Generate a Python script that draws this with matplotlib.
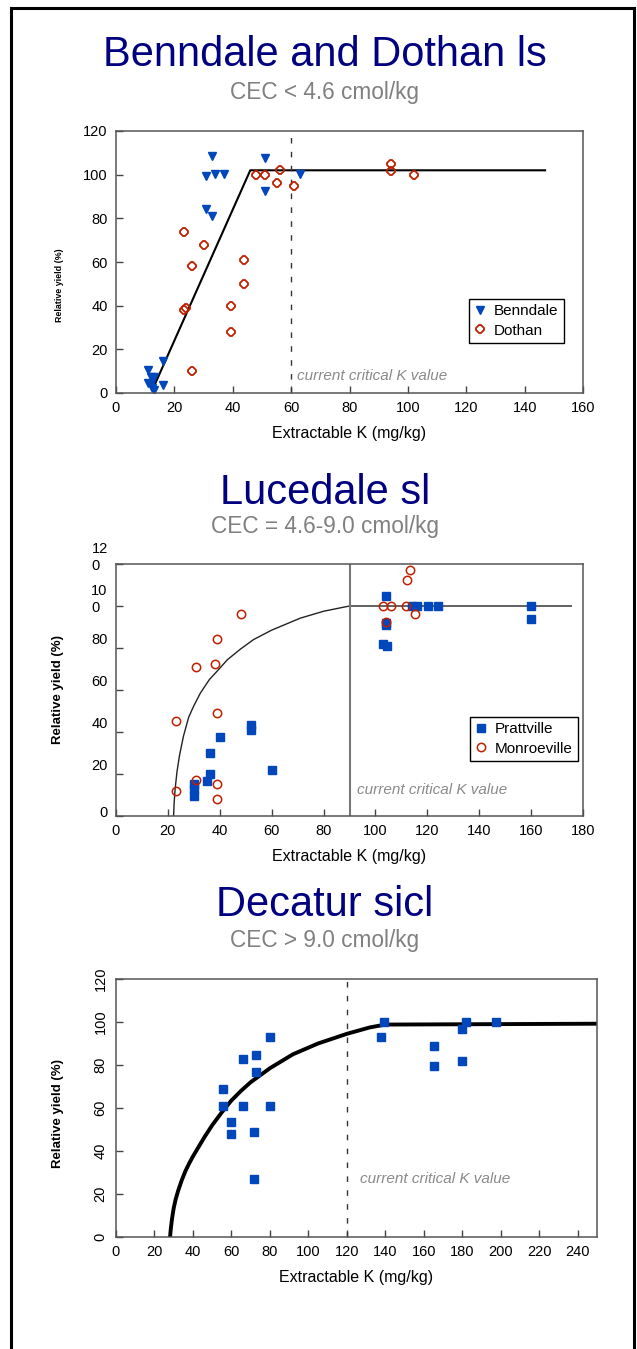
import matplotlib
matplotlib.use("Agg")
import matplotlib.pyplot as plt
import matplotlib.transforms as mtransforms
from matplotlib.lines import Line2D

plt.rcParams['font.family'] = ['Liberation Sans', 'DejaVu Sans']

# ---- panel 1: Benndale and Dothan ls ----
benndale_k = [33, 51, 31, 34, 37, 63, 51, 31, 33, 16, 11, 16, 12, 13, 11, 12, 12.5, 13]
benndale_y = [108.6, 107.5, 99.4, 100.3, 100.3, 100.3, 92.4, 84.4, 81.2, 14.5, 10.5, 3.5, 7.5, 7.5, 4.5, 4, 2.5, 1.5]
dothan_k = [23.2, 30.1, 26.2, 44, 44, 39.3, 39.3, 23.2, 24, 26.2, 48.1, 51.1, 56.3, 55.2, 61, 94.2, 94.2, 102]
dothan_y = [73.9, 67.9, 58, 61, 50, 39.9, 27.8, 37.9, 39, 10.1, 100, 100, 102, 96, 95, 105, 101.8, 100]
fit1_k = [13, 46, 147]
fit1_y = [3, 102, 102]

# ---- panel 2: Lucedale sl ----
pratt_k = [104.1, 104.1, 104.1, 103, 104.4, 114, 116, 120.1, 124.3, 160.1, 160.1,
           30.2, 30.2, 30.2, 35, 36.4, 36.4, 40.1, 52, 52, 60]
pratt_y = [104.9, 90.8, 92, 82.1, 81.1, 100, 100, 100, 100, 100, 94,
           15.4, 13, 9.4, 16.7, 30.2, 20.2, 37.8, 43.3, 41.1, 22.1]
monroe_k = [113.3, 112.2, 103.1, 106.1, 111.9, 115.1, 104.1, 48.1, 39, 38, 31, 39, 23.1, 31, 23.1, 39, 39]
monroe_y = [117.1, 112.2, 100.2, 100.2, 100.2, 96, 92.4, 96.2, 84.1, 72.2, 71.1, 49, 45.2, 17.3, 12.1, 15.1, 7.9]
fit2_k = [22.2, 22.4, 22.8, 23.5, 24.5, 26, 28, 30, 32.5, 36, 39, 43, 48, 53, 60, 71, 80, 90, 175.5]
fit2_y = [0, 6, 13, 21, 29, 38, 47, 52.5, 58.5, 65, 69, 74.5, 79.5, 84, 88.5, 94.2, 97.5, 100, 100]

# ---- panel 3: Decatur sicl ----
decatur_k = [55.6, 55.6, 59.6, 59.6, 65.8, 65.8, 72.7, 72.7, 71.9, 71.9, 80.1, 80.1,
             139.1, 137.7, 165.1, 165.1, 179.9, 179.9, 182.1, 197.7]
decatur_y = [69, 61.1, 53.7, 48.1, 82.9, 61.1, 84.7, 76.9, 48.9, 26.8, 93.1, 61.1,
             100.2, 93.1, 88.9, 79.6, 96.8, 82, 100.2, 100.2]
fit3_k = [28.1, 28.5, 29.2, 30, 31, 32.3, 34, 36, 38, 40, 43, 46, 50, 55, 60, 65, 70,
          80, 92, 105, 120, 132, 140, 249]
fit3_y = [0, 4, 9, 13.5, 17.5, 21.5, 26, 30.5, 34.2, 37.5, 42, 46.5, 52, 58, 63.5, 68, 72,
          78.5, 85, 90, 94.5, 97.5, 98.8, 99.2]

critical_k = [60, 90, 120]
titles = ["Benndale and Dothan ls", "Lucedale sl", "Decatur sicl"]
subtitles = ["CEC < 4.6 cmol/kg", "CEC = 4.6-9.0 cmol/kg", "CEC > 9.0 cmol/kg"]

W, H = 637, 1349
BLUE = '#0047bb'
RED = '#c02000'
GREY = '#8a8a8a'

fig = plt.figure(figsize=(W / 100, H / 100), dpi=100)


def px_axes(left, top, right, bottom):
    return fig.add_axes([left / W, 1 - bottom / H, (right - left) / W, (bottom - top) / H])


def style(ax, xmax, xstep, ylabsize, ylab_y):
    ax.set_xlim(0, xmax)
    ax.set_ylim(0, 120)
    ax.set_xticks(range(0, xmax + 1, xstep))
    ax.set_yticks(range(0, 121, 20))
    ax.tick_params(direction='in', length=5, width=1, color='#444', labelsize=10.5, pad=6)
    for s in ax.spines.values():
        s.set_color('#555')
        s.set_linewidth(1.1)
    ax.set_xlabel("Extractable K (mg/kg)", fontsize=11.5, labelpad=8)
    ax.set_ylabel("Relative yield (%)", fontsize=ylabsize, fontweight='bold')
    bb = ax.get_position()
    ax.yaxis.set_label_coords(-52 / (bb.width * W), ylab_y)


def frame_legend(ax, x, y):
    leg = ax.legend(loc='upper left', bbox_to_anchor=(x / W, 1 - y / H),
                    bbox_transform=fig.transFigure, fontsize=11, frameon=True,
                    fancybox=False, framealpha=1, edgecolor='black', borderpad=0.35,
                    labelspacing=0.35, handlelength=0.8, handletextpad=0.5, borderaxespad=0)
    leg.get_frame().set_linewidth(1.0)


def crit_text(ax, x, y):
    ax.text(x, y, "current critical K value", fontsize=11, style='italic',
            color=GREY, ha='left', va='center')


# titles
title_y = [55, 493, 905]
sub_y = [93, 527, 941]
for t, s, ty, sy in zip(titles, subtitles, title_y, sub_y):
    fig.text(325 / W, 1 - ty / H, t, fontsize=30, color='#000080', ha='center', va='center')
    fig.text(325 / W, 1 - sy / H, s, fontsize=16.3, color='#808080', ha='center', va='center')

# panel 1
ax1 = px_axes(116, 131, 583, 393)
ax1.plot(fit1_k, fit1_y, color='black', lw=1.5)
ax1.axvline(critical_k[0], color='#333', lw=1, linestyle=(0, (4, 6)))
ax1.plot(benndale_k, benndale_y, 'v', color=BLUE, ms=6, ls='none', label='Benndale')
ax1.plot(dothan_k, dothan_y, '8', mfc='none', mec=RED, mew=1.3, ms=5.5, ls='none', label='Dothan')
style(ax1, 160, 20, 6.4, 0.41)
crit_text(ax1, 62, 8)
frame_legend(ax1, 469, 299)

# panel 2
ax2 = px_axes(116, 564, 583, 816)
ax2.plot(fit2_k, fit2_y, color='#222', lw=1)
ax2.axvline(critical_k[1], color='#777', lw=1.5)
ax2.plot(pratt_k, pratt_y, 's', color=BLUE, ms=5.5, ls='none', label='Prattville')
ax2.plot(monroe_k, monroe_y, 'o', mfc='none', mec=RED, mew=1.1, ms=6, ls='none', label='Monroeville')
style(ax2, 180, 20, 9.5, 0.5)
ax2.set_yticklabels(["0", "20", "40", "60", "80", "10\n0", "12\n0"])
for lab in ax2.get_yticklabels():
    up = 3 if lab.get_text() == "0" else 6.5
    lab.set_multialignment('left')
    lab.set_transform(lab.get_transform() + mtransforms.ScaledTranslation(0, up / 72, fig.dpi_scale_trans))
crit_text(ax2, 93, 12.2)
frame_legend(ax2, 470, 717)

# panel 3
ax3 = px_axes(116, 979, 597, 1237)
ax3.plot(fit3_k, fit3_y, color='black', lw=2.8, solid_joinstyle='round')
ax3.axvline(critical_k[2], color='#333', lw=1, linestyle=(0, (4, 6)))
ax3.plot(decatur_k, decatur_y, 's', color=BLUE, ms=5.5, ls='none')
style(ax3, 240, 20, 9.5, 0.48)
ax3.set_xlim(0, 250)
for lab in ax3.get_yticklabels():
    lab.set_rotation(90)
    lab.set_va('center')
    lab.set_ha('right')
crit_text(ax3, 126.7, 26.8)

# page frame
lw = 2.2
fig.add_artist(Line2D([11 / W, 11 / W], [0, 1 - 7.5 / H], transform=fig.transFigure, color='black', lw=lw))
fig.add_artist(Line2D([11 / W, 633.5 / W], [1 - 7.5 / H, 1 - 7.5 / H], transform=fig.transFigure, color='black', lw=lw))
fig.add_artist(Line2D([633.5 / W, 633.5 / W], [0, 1 - 7.5 / H], transform=fig.transFigure, color='black', lw=lw))

fig.savefig('out.png', dpi=100)
